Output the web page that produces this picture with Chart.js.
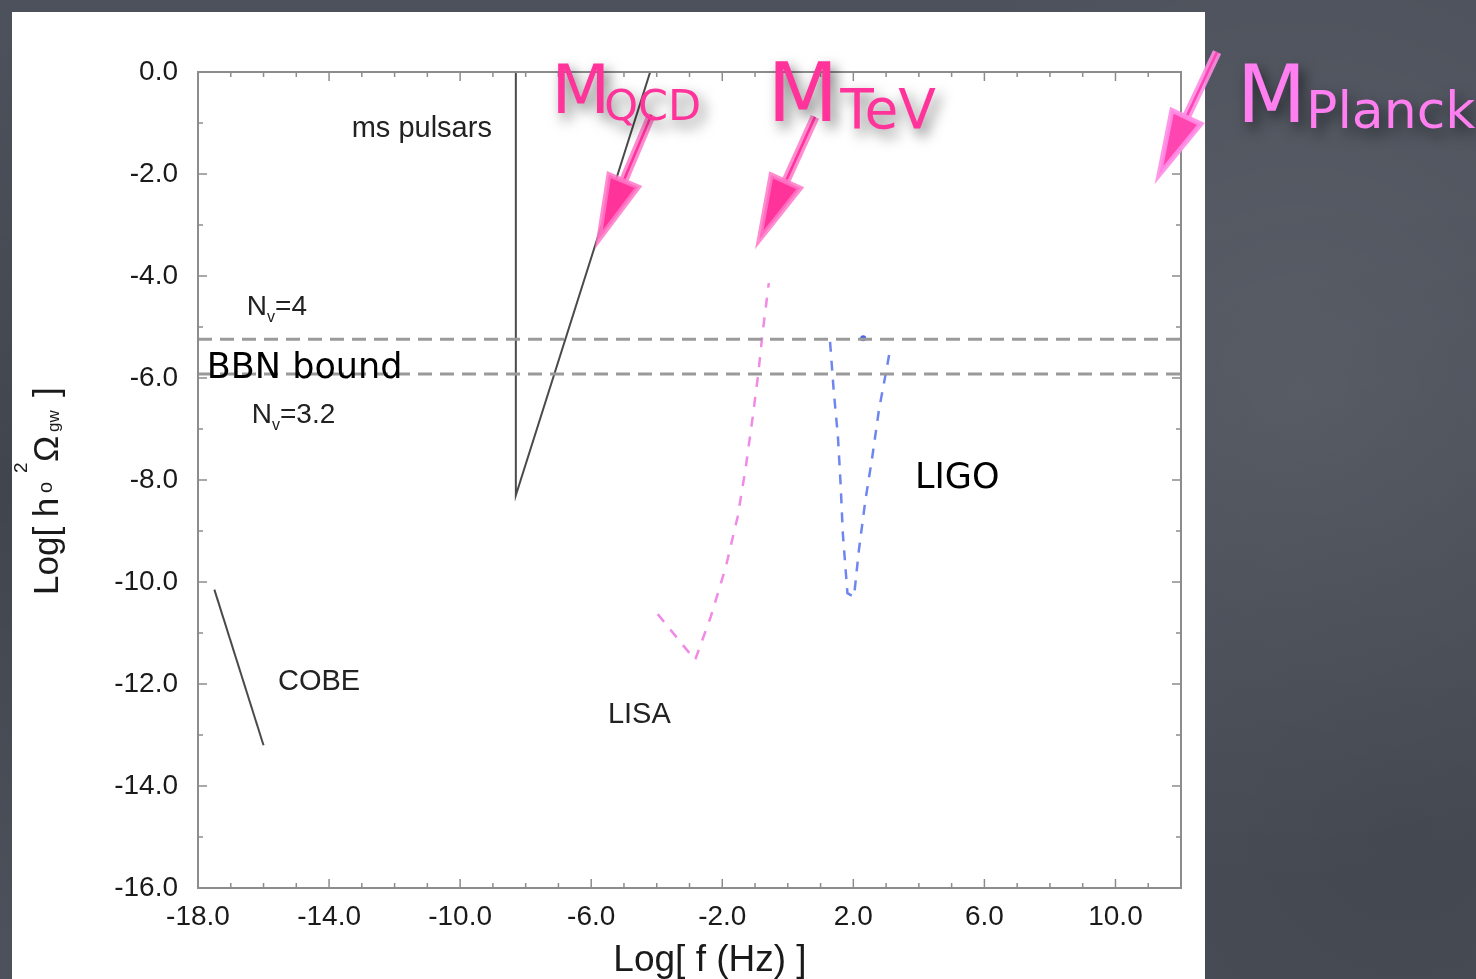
<!DOCTYPE html>
<html lang="en">
<head>
<meta charset="UTF-8">
<title>Gravitational wave background bounds</title>
<script src="https://cdn.jsdelivr.net/npm/chart.js@4.4.1/dist/chart.umd.min.js"></script>
<style>
  html, body { margin: 0; padding: 0; width: 1476px; height: 979px; overflow: hidden; }
  body {
    background-color: #4c515b;
    background-image:
      radial-gradient(circle at 88% 40%, rgba(255,255,255,0.08), rgba(255,255,255,0) 35%),
      radial-gradient(circle at 95% 85%, rgba(0,0,0,0.12), rgba(0,0,0,0) 40%),
      radial-gradient(circle at 0% 50%, rgba(0,0,0,0.15), rgba(0,0,0,0) 30%);
  }
  #panel { position: absolute; left: 12px; top: 12px; width: 1193px; height: 967px; background: #fff; }
  #chart { position: absolute; left: 0; top: 0; }
</style>
</head>
<body>
<div id="panel"></div>
<canvas id="chart" width="1476" height="979"></canvas>
<script>
// axis ticks
const xTicks = [-18, -14, -10, -6, -2, 2, 6, 10];
const yTicks = [0, -2, -4, -6, -8, -10, -12, -14, -16];

// ms pulsars bound
const pulsarX = [-8.3, -8.3, -4.2];
const pulsarY = [0, -8.3, 0];

// COBE bound
const cobeX = [-17.5, -16.0];
const cobeY = [-10.15, -13.2];

// BBN bounds (N_v = 4 and N_v = 3.2)
const bbnX = [-18, 12];
const bbnHighY = [-5.24, -5.24];
const bbnLowY = [-5.92, -5.92];

// LISA sensitivity
const lisaX = [-3.97, -2.83, -2.35, -1.89, -1.53, -1.28, -1.07, -0.90, -0.77, -0.58];
const lisaY = [-10.63, -11.53, -10.68, -9.70, -8.72, -7.74, -6.76, -5.91, -5.12, -4.14];

// LIGO sensitivity
const ligoX = [1.29, 1.40, 1.53, 1.61, 1.68, 1.82, 2.02, 2.17, 2.37, 2.58, 2.78, 2.99, 3.12];
const ligoY = [-5.29, -6.24, -7.15, -8.06, -9.05, -10.22, -10.29, -9.37, -8.39, -7.54, -6.63, -5.91, -5.45];
const ligoMarkX = [2.3];
const ligoMarkY = [-5.22];

function pts(xs, ys) { return xs.map((x, i) => ({ x: x, y: ys[i] })); }

const SANS = "'Liberation Sans', Arial, sans-serif";
const HAND = "'Comic Sans MS', 'DejaVu Sans', sans-serif";

// draws text pieces along a baseline; each piece has its own offset
function runs(ctx, x, y, parts) {
  let cx = x;
  parts.forEach(p => {
    ctx.font = p.font;
    const px = p.at !== undefined ? x + p.at : cx;
    ctx.fillText(p.text, px, y + (p.dy || 0));
    cx = px + ctx.measureText(p.text).width + (p.gap || 0);
  });
}

function arrow(ctx, tail, tip, outer, inner) {
  const dx = tip.x - tail.x, dy = tip.y - tail.y, len = Math.hypot(dx, dy);
  const ux = dx / len, uy = dy / len, nx = -uy, ny = ux;
  const headLen = 64, headW = 16;
  const bx = tip.x - ux * headLen, by = tip.y - uy * headLen;
  ctx.save();
  ctx.lineCap = 'butt';
  ctx.strokeStyle = outer; ctx.lineWidth = 9;
  ctx.beginPath(); ctx.moveTo(tail.x, tail.y); ctx.lineTo(bx, by); ctx.stroke();
  ctx.strokeStyle = inner; ctx.lineWidth = 2.5;
  ctx.beginPath(); ctx.moveTo(tail.x, tail.y); ctx.lineTo(bx, by); ctx.stroke();
  ctx.beginPath();
  ctx.moveTo(tip.x, tip.y);
  ctx.lineTo(bx + nx * headW, by + ny * headW);
  ctx.lineTo(bx - nx * headW, by - ny * headW);
  ctx.closePath();
  ctx.fillStyle = inner; ctx.fill();
  ctx.strokeStyle = outer; ctx.lineWidth = 5; ctx.lineJoin = 'miter'; ctx.stroke();
  ctx.restore();
}

// frame with inward ticks on all four sides
const framePlugin = {
  id: 'frame',
  afterDatasetsDraw(chart) {
    const { ctx, chartArea: a, scales: { x, y } } = chart;
    ctx.save();
    ctx.strokeStyle = '#8c8c8c';
    ctx.lineWidth = 2;
    ctx.strokeRect(a.left, a.top, a.right - a.left, a.bottom - a.top);
    ctx.lineWidth = 1.5;
    ctx.beginPath();
    for (let v = x.min; v <= x.max; v++) {
      const px = x.getPixelForValue(v);
      const l = xTicks.includes(v) ? 9 : 5;
      ctx.moveTo(px, a.bottom); ctx.lineTo(px, a.bottom - l);
      ctx.moveTo(px, a.top); ctx.lineTo(px, a.top + l);
    }
    for (let v = y.min; v <= y.max; v++) {
      const py = y.getPixelForValue(v);
      const l = yTicks.includes(v) ? 9 : 5;
      ctx.moveTo(a.left, py); ctx.lineTo(a.left + l, py);
      ctx.moveTo(a.right, py); ctx.lineTo(a.right - l, py);
    }
    ctx.stroke();
    ctx.restore();
  }
};

// labels, axis titles and the pink scale annotations
const notesPlugin = {
  id: 'notes',
  afterDraw(chart) {
    const { ctx, scales: { x, y } } = chart;
    const P = (vx, vy) => ({ x: x.getPixelForValue(vx), y: y.getPixelForValue(vy) });
    ctx.save();
    ctx.textBaseline = 'alphabetic';
    ctx.textAlign = 'left';
    ctx.fillStyle = '#222';

    let p = P(-13.31, -1.27);
    ctx.font = '29px ' + SANS; ctx.fillText('ms pulsars', p.x, p.y);
    p = P(-15.56, -12.12); ctx.fillText('COBE', p.x, p.y);
    p = P(-5.49, -12.76); ctx.fillText('LISA', p.x, p.y);

    p = P(-16.51, -4.76);
    runs(ctx, p.x, p.y, [
      { text: 'N', font: '28px ' + SANS },
      { text: 'v', font: '16px ' + SANS, dy: 7 },
      { text: '=4', font: '28px ' + SANS }
    ]);
    p = P(-16.36, -6.88);
    runs(ctx, p.x, p.y, [
      { text: 'N', font: '28px ' + SANS },
      { text: 'v', font: '16px ' + SANS, dy: 7 },
      { text: '=3.2', font: '28px ' + SANS }
    ]);

    ctx.fillStyle = '#000';
    ctx.font = '35px ' + HAND;
    p = P(-17.73, -6.0); ctx.fillText('BBN bound', p.x, p.y);
    p = P(3.88, -8.16); ctx.fillText('LIGO', p.x, p.y);

    // x axis title
    ctx.fillStyle = '#1a1a1a';
    ctx.font = '37px ' + SANS;
    ctx.textAlign = 'center';
    ctx.fillText('Log[ f (Hz) ]', 710, 971);
    ctx.textAlign = 'left';

    // y axis title
    ctx.save();
    ctx.translate(58, 595);
    ctx.rotate(-Math.PI / 2);
    runs(ctx, 0, 0, [
      { text: 'Log[ h', font: '35px ' + SANS, at: 0 },
      { text: 'o', font: '20px ' + SANS, at: 102, dy: -6 },
      { text: '2', font: '19px ' + SANS, at: 122, dy: -31 },
      { text: '\u03A9', font: '35px ' + SANS, at: 133 },
      { text: 'gw', font: '17px ' + SANS, at: 163, dy: 1 },
      { text: ']', font: '35px ' + SANS, at: 198 }
    ]);
    ctx.restore();

    // pink annotations
    const hot = '#ff3399', hotEdge = 'rgba(255,120,200,0.85)';
    const lite = '#ff7ff0', liteEdge = 'rgba(255,140,230,0.9)';
    arrow(ctx, P(-4.16, -0.84), P(-5.77, -3.29), hotEdge, hot);
    arrow(ctx, P(0.83, -0.88), P(-0.87, -3.29), hotEdge, hot);
    arrow(ctx, P(13.1, 0.39), P(11.33, -2.02), liteEdge, '#ff45b0');

    ctx.shadowColor = 'rgba(0,0,0,0.55)';
    ctx.shadowBlur = 14;
    ctx.shadowOffsetX = 5;
    ctx.shadowOffsetY = 7;
    ctx.fillStyle = hot;
    p = P(-7.21, -0.81);
    runs(ctx, p.x, p.y, [
      { text: 'M', font: '68px ' + HAND, gap: -6 },
      { text: 'QCD', font: '43px ' + HAND, dy: 7 }
    ]);
    p = P(-0.62, -0.97);
    runs(ctx, p.x, p.y, [
      { text: 'M', font: '82px ' + HAND, gap: 2 },
      { text: 'TeV', font: '55px ' + HAND, dy: 7 }
    ]);
    ctx.fillStyle = lite;
    p = P(13.71, -0.98);
    runs(ctx, p.x, p.y, [
      { text: 'M', font: '80px ' + HAND, gap: 0 },
      { text: 'Planck', font: '52px ' + HAND, dy: 6 }
    ]);
    ctx.restore();
  }
};

const line = (label, xs, ys, color, width, dash) => ({
  label: label,
  data: pts(xs, ys),
  showLine: true,
  borderColor: color,
  borderWidth: width,
  borderDash: dash,
  pointRadius: 0,
  tension: 0
});

new Chart(document.getElementById('chart'), {
  type: 'scatter',
  data: {
    datasets: [
      line('BBN N=4', bbnX, bbnHighY, '#9a9a9a', 3, [14, 8]),
      line('BBN N=3.2', bbnX, bbnLowY, '#9a9a9a', 3, [14, 8]),
      line('ms pulsars', pulsarX, pulsarY, '#4a4a4a', 2, []),
      line('COBE', cobeX, cobeY, '#4a4a4a', 2, []),
      line('LISA', lisaX, lisaY, '#f08ae6', 2.5, [10, 10]),
      line('LIGO', ligoX, ligoY, '#6f86ee', 2.5, [10, 9]),
      {
        label: 'LIGO mark',
        data: pts(ligoMarkX, ligoMarkY),
        pointRadius: 3,
        pointBackgroundColor: '#4a64e6',
        pointBorderWidth: 0
      }
    ]
  },
  options: {
    responsive: false,
    animation: false,
    devicePixelRatio: 1,
    layout: { padding: { left: 0, top: 72, right: 295, bottom: 0 } },
    plugins: { legend: { display: false }, tooltip: { enabled: false } },
    scales: {
      x: {
        type: 'linear',
        min: -18,
        max: 12,
        afterBuildTicks: s => { s.ticks = xTicks.map(v => ({ value: v })); },
        afterFit: s => { s.height = 91; },
        ticks: {
          callback: v => v.toFixed(1),
          font: { family: SANS, size: 28 },
          color: '#1a1a1a',
          padding: 12,
          maxRotation: 0,
          autoSkip: false
        },
        grid: { display: true, drawOnChartArea: false, drawTicks: false },
        border: { display: false }
      },
      y: {
        type: 'linear',
        min: -16,
        max: 0,
        afterBuildTicks: s => { s.ticks = yTicks.map(v => ({ value: v })); },
        afterFit: s => { s.width = 198; },
        ticks: {
          callback: v => v.toFixed(1),
          font: { family: SANS, size: 28 },
          color: '#1a1a1a',
          padding: 20,
          autoSkip: false
        },
        grid: { display: true, drawOnChartArea: false, drawTicks: false },
        border: { display: false }
      }
    }
  },
  plugins: [framePlugin, notesPlugin]
});
</script>
</body>
</html>
